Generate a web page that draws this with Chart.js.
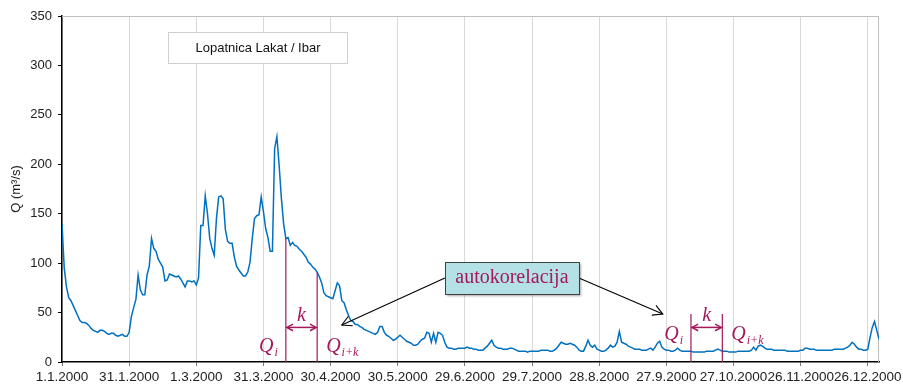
<!DOCTYPE html>
<html>
<head>
<meta charset="utf-8">
<script src="https://cdn.jsdelivr.net/npm/chart.js@4.4.0/dist/chart.umd.min.js"></script>
<style>html,body{margin:0;padding:0;background:#fff}</style>
</head>
<body>
<canvas id="chart" width="903" height="385"></canvas>
<script>
// tick labels every 30 days, starting 1.1.2000
const tickLabels = ['1.1.2000', '31.1.2000', '1.3.2000', '31.3.2000', '30.4.2000', '30.5.2000', '29.6.2000',
    '29.7.2000', '28.8.2000', '27.9.2000', '27.10.2000', '26.11.2000', '26.12.2000'];

// daily discharge Q (m3/s), 10 days per row
const flow = [
    140, 95, 76, 65, 62, 57, 52, 47, 42, 40,
    40, 39, 37, 34, 32, 31, 30, 32, 32, 31,
    29, 28, 29, 29, 27, 26, 27, 28, 26, 26,
    30, 46, 55, 63, 88, 73, 68, 68, 88, 97,
    125, 115, 112, 104, 100, 96, 82, 83, 89, 88,
    87, 86, 87, 84, 80, 76, 82, 82, 81, 82,
    78, 85, 138, 138, 168, 150, 125, 115, 108, 145,
    167, 168, 165, 134, 122, 120, 120, 106, 97, 93,
    90, 87, 87, 91, 101, 125, 145, 148, 149, 167,
    152, 135, 126, 112, 112, 216, 228, 199, 166, 140,
    125, 126, 118, 121, 118, 117, 114, 112, 109, 106,
    101, 99, 96, 94, 91, 86, 80, 70, 67, 66,
    65, 64, 72, 80, 77, 62, 60, 53, 47, 42,
    41, 38, 38, 36, 35, 33, 32, 31, 30, 29,
    28, 30, 36, 36, 30, 27, 26, 24, 22, 23,
    25, 27, 25, 23, 21, 20, 19, 17, 17, 18,
    21, 23, 24, 30, 29, 20, 29, 20, 30, 29,
    27, 20, 15, 14, 14, 13, 13, 14, 14, 14,
    14, 15, 14, 14, 13, 13, 12, 12, 12, 14,
    16, 19, 22, 17, 15, 14, 14, 13, 13, 13,
    14, 14, 13, 12, 11, 11, 11, 11, 10, 11,
    11, 11, 11, 11, 12, 12, 12, 12, 11, 11,
    12, 14, 17, 20, 19, 18, 18, 19, 18, 17,
    15, 12, 11, 11, 16, 22, 17, 15, 17, 13,
    12, 11, 11, 12, 14, 17, 15, 16, 20, 31,
    20, 19, 18, 16, 15, 14, 13, 13, 13, 12,
    12, 12, 13, 14, 12, 15, 19, 21, 15, 13,
    12, 12, 11, 11, 12, 14, 12, 11, 11, 11,
    11, 11, 10, 10, 10, 10, 10, 10, 11, 11,
    11, 11, 12, 13, 12, 11, 11, 11, 10, 10,
    10, 10, 11, 11, 11, 11, 11, 11, 12, 15,
    12, 16, 17, 16, 14, 13, 13, 13, 12, 12,
    12, 12, 12, 12, 11, 11, 11, 11, 11, 11,
    12, 12, 14, 14, 13, 13, 13, 12, 12, 12,
    12, 12, 12, 12, 12, 13, 13, 13, 13, 13,
    14, 15, 17, 20, 18, 15, 13, 13, 12, 12,
    13, 25, 35, 41, 32, 23
];

const days = flow.map((v, i) => i);

const FONT = 'Liberation Sans';
const RED = '#a3195b';

function arrowHead(ctx, x1, y1, x2, y2, size) {
    const a = Math.atan2(y2 - y1, x2 - x1);
    ctx.beginPath();
    ctx.moveTo(x2 - size * Math.cos(a - 0.5), y2 - size * Math.sin(a - 0.5));
    ctx.lineTo(x2, y2);
    ctx.lineTo(x2 - size * Math.cos(a + 0.5), y2 - size * Math.sin(a + 0.5));
    ctx.stroke();
}

function qLabel(ctx, x, y, sub, alignRight) {
    ctx.font = 'italic 20px "Liberation Serif"';
    const wq = ctx.measureText('Q').width;
    ctx.font = 'italic 12px "Liberation Serif"';
    const ws = ctx.measureText(sub).width;
    const x0 = alignRight ? x - wq - ws - 1 : x;
    ctx.textAlign = 'left';
    ctx.textBaseline = 'alphabetic';
    ctx.font = 'italic 20px "Liberation Serif"';
    ctx.fillText('Q', x0, y);
    ctx.font = 'italic 12px "Liberation Serif"';
    ctx.fillText(sub, x0 + wq + 1, y + 4);
}

function lagMarker(ctx, xs, ys, d0, d1, top, labelY) {
    const x0 = xs.getPixelForValue(d0), x1 = xs.getPixelForValue(d1);
    const yb = ys.getPixelForValue(0);
    const t0 = ys.getPixelForValue(top === null ? flow[d0] : top);
    const t1 = ys.getPixelForValue(top === null ? flow[d1] : top);
    ctx.strokeStyle = RED;
    ctx.fillStyle = RED;
    ctx.lineWidth = 1.2;
    ctx.beginPath();
    ctx.moveTo(x0, yb); ctx.lineTo(x0, t0);
    ctx.moveTo(x1, yb); ctx.lineTo(x1, t1);
    ctx.stroke();
    const ya = ys.getPixelForValue(35);
    ctx.lineWidth = 1.5;
    ctx.beginPath();
    ctx.moveTo(x0 + 1, ya); ctx.lineTo(x1 - 1, ya);
    ctx.stroke();
    arrowHead(ctx, x1, ya, x0 + 1, ya, 7);
    arrowHead(ctx, x0, ya, x1 - 1, ya, 7);
    ctx.font = 'italic 20px "Liberation Serif"';
    ctx.textAlign = 'center';
    ctx.textBaseline = 'alphabetic';
    ctx.fillText('k', (x0 + x1) / 2, ya - 6);
    const ly = ys.getPixelForValue(labelY);
    qLabel(ctx, x0 - 8, ly, 'i', true);
    qLabel(ctx, x1 + 9, ly, 'i+k', false);
}

const overlay = {
    id: 'overlay',
    beforeDatasetsDraw(chart) {
        const { ctx, chartArea: a } = chart;
        ctx.save();
        ctx.strokeStyle = '#bfbfbf';
        ctx.lineWidth = 1;
        ctx.beginPath();
        ctx.moveTo(a.left, a.top + 0.5);
        ctx.lineTo(a.right - 0.5, a.top + 0.5);
        ctx.lineTo(a.right - 0.5, a.bottom);
        ctx.stroke();
        ctx.restore();
    },
    afterDatasetsDraw(chart) {
        const { ctx, scales: { x, y } } = chart;
        ctx.save();

        // station name box
        ctx.fillStyle = '#fff';
        ctx.strokeStyle = '#d0d0d0';
        ctx.lineWidth = 1;
        ctx.fillRect(168.5, 32.5, 179, 31);
        ctx.strokeRect(168.5, 32.5, 179, 31);
        ctx.fillStyle = '#111';
        ctx.font = '13px "' + FONT + '"';
        ctx.textAlign = 'center';
        ctx.textBaseline = 'middle';
        ctx.fillText('Lopatnica Lakat / Ibar', 258, 48);

        lagMarker(ctx, x, y, 100, 114, null, 10.5);
        lagMarker(ctx, x, y, 281, 295, 48.5, 22);

        // callout
        const bx = x.getPixelForValue(201), by = y.getPixelForValue(85);
        const bw = 134, bh = 32;
        ctx.strokeStyle = '#000';
        ctx.lineWidth = 1.1;
        const targets = [[bx - bw / 2, 125, 37.4], [bx + bw / 2, 268.4, 48.5]];
        targets.forEach(t => {
            const tx = x.getPixelForValue(t[1]), ty = y.getPixelForValue(t[2]);
            ctx.beginPath();
            ctx.moveTo(t[0], by);
            ctx.lineTo(tx, ty);
            ctx.stroke();
            arrowHead(ctx, t[0], by, tx, ty, 11);
        });
        ctx.save();
        ctx.shadowColor = 'rgba(0,0,0,0.35)';
        ctx.shadowOffsetX = 2;
        ctx.shadowOffsetY = 2;
        ctx.shadowBlur = 2;
        ctx.fillStyle = '#b4e1e6';
        ctx.fillRect(bx - bw / 2, by - bh / 2, bw, bh);
        ctx.restore();
        ctx.strokeStyle = '#404040';
        ctx.lineWidth = 1;
        ctx.strokeRect(Math.round(bx - bw / 2) + 0.5, Math.round(by - bh / 2) + 0.5, bw, bh);
        ctx.fillStyle = RED;
        ctx.font = '20px "Liberation Serif"';
        ctx.textAlign = 'center';
        ctx.textBaseline = 'middle';
        ctx.fillText('autokorelacija', bx, by);

        ctx.restore();
    }
};

new Chart(document.getElementById('chart'), {
    type: 'line',
    data: {
        datasets: [{
            data: days.map(d => ({ x: d, y: flow[d] })),
            borderColor: '#0070c0',
            borderWidth: 1.5,
            pointRadius: 0,
            tension: 0
        }]
    },
    options: {
        responsive: false,
        animation: false,
        devicePixelRatio: 1,
        layout: { padding: { top: 16, right: 24, left: 0, bottom: 0 } },
        plugins: { legend: { display: false }, tooltip: { enabled: false } },
        scales: {
            x: {
                type: 'linear',
                min: 0,
                max: 365,
                ticks: {
                    stepSize: 30,
                    autoSkip: false,
                    maxRotation: 0,
                    includeBounds: false,
                    padding: 3,
                    color: '#222',
                    font: { family: FONT, size: 13.5 },
                    callback: v => tickLabels[v / 30] || ''
                },
                grid: { color: '#d9d9d9', tickLength: 4, tickColor: '#777' },
                border: { color: '#000', width: 1.5 },
                afterFit: s => { s.height = 23; s.paddingLeft = 0; s.paddingRight = 0; }
            },
            y: {
                min: 0,
                max: 350,
                ticks: {
                    stepSize: 50,
                    padding: 6,
                    color: '#222',
                    font: { family: FONT, size: 13 }
                },
                grid: { drawOnChartArea: false, tickLength: 4, tickColor: '#000' },
                border: { color: '#000', width: 1.5 },
                title: {
                    display: true,
                    text: 'Q (m³/s)',
                    color: '#222',
                    font: { family: FONT, size: 13 },
                    padding: { top: 9, bottom: 0 }
                },
                afterFit: s => { s.width = 62; }
            }
        }
    },
    plugins: [overlay]
});
</script>
</body>
</html>
